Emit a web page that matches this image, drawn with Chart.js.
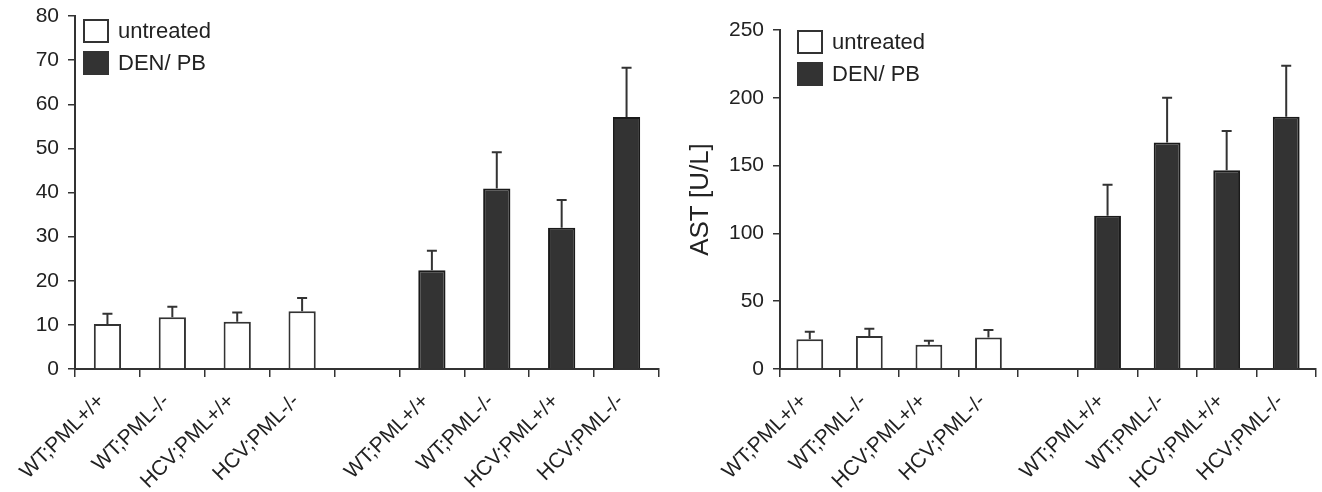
<!DOCTYPE html>
<html>
<head>
<meta charset="utf-8">
<script src="https://cdn.jsdelivr.net/npm/chart.js@4/dist/chart.umd.min.js"></script>
<style>
  body { margin: 0; background: #fff; }
  .panel { position: absolute; top: 0; width: 661px; height: 492px; }
</style>
</head>
<body>
<div class="panel" style="left:0"><canvas id="altChart" width="661" height="492"></canvas></div>
<div class="panel" style="left:661px"><canvas id="astChart" width="661" height="492"></canvas></div>
<script>
// categories (empty slot separates the two groups)
const groupLabels = ['WT;PML+/+', 'WT;PML-/-', 'HCV;PML+/+', 'HCV;PML-/-'];
const seriesNames = ['untreated', 'DEN/ PB'];

// left panel
const leftUntreated = [10.2, 11.7, 10.7, 13.1];
const leftUntreatedErr = [2.3, 2.4, 2.1, 3.0];
const leftDen = [22.4, 40.9, 32.0, 57.1];
const leftDenErr = [4.4, 8.2, 6.3, 11.2];
const leftTicks = { max: 80, step: 10 };

// right panel (AST)
const astUntreated = [22.0, 24.3, 17.9, 23.3];
const astUntreatedErr = [5.4, 5.3, 2.9, 5.4];
const astDen = [113, 167, 146.5, 186];
const astDenErr = [22.8, 33.0, 29.0, 37.7];
const astTicks = { max: 250, step: 50 };

const FONT = "'Liberation Sans', Arial, sans-serif";
const INK = '#222';
const AXIS = '#333';

const labels = groupLabels.concat([''], groupLabels);
const pad5 = [null, null, null, null, null];
function firstGroup(v) { return v.concat(pad5); }
function secondGroup(v) { return pad5.concat(v); }

// error bars (upper only) drawn through the y scale
const errorBars = {
	id: 'errorBars',
	afterDatasetsDraw(chart) {
		const ctx = chart.ctx;
		const y = chart.scales.y;
		ctx.save();
		ctx.strokeStyle = AXIS;
		ctx.lineWidth = 2;
		chart.data.datasets.forEach((ds, di) => {
			const meta = chart.getDatasetMeta(di);
			meta.data.forEach((bar, i) => {
				const v = ds.data[i];
				if (v == null) return;
				const top = y.getPixelForValue(v + ds.errors[i]);
				ctx.beginPath();
				ctx.moveTo(bar.x, bar.y);
				ctx.lineTo(bar.x, top);
				ctx.moveTo(bar.x - 5, top);
				ctx.lineTo(bar.x + 5, top);
				ctx.stroke();
			});
		});
		ctx.restore();
	}
};

// legend boxes inside the plot, top left
const boxLegend = {
	id: 'boxLegend',
	afterDraw(chart, args, opts) {
		const ctx = chart.ctx;
		const area = chart.chartArea;
		ctx.save();
		ctx.font = '22px ' + FONT;
		ctx.textBaseline = 'middle';
		chart.data.datasets.forEach((ds, i) => {
			const bx = area.left + opts.dx;
			const by = area.top + opts.dy + i * 32;
			ctx.fillStyle = ds.backgroundColor;
			ctx.fillRect(bx, by, 24, 22);
			ctx.strokeStyle = AXIS;
			ctx.lineWidth = 2;
			ctx.strokeRect(bx, by, 24, 22);
			ctx.fillStyle = INK;
			ctx.fillText(ds.label, bx + 34, by + 12);
		});
		ctx.restore();
	}
};

function makeChart(id, untreated, untreatedErr, den, denErr, ticksDef, opt) {
	const ctx = document.getElementById(id);
	const config = {
		type: 'bar',
		data: {
			labels: labels,
			datasets: [
				{
					label: seriesNames[0],
					data: firstGroup(untreated),
					errors: firstGroup(untreatedErr),
					backgroundColor: '#ffffff',
					borderColor: AXIS,
					borderWidth: 2
				},
				{
					label: seriesNames[1],
					data: secondGroup(den),
					errors: secondGroup(denErr),
					backgroundColor: '#333333',
					borderColor: '#1a1a1a',
					borderWidth: 2
				}
			]
		},
		options: {
			responsive: false,
			animation: false,
			grouped: false,
			categoryPercentage: 1,
			barPercentage: opt.barPct,
			layout: { padding: { top: opt.top, right: opt.right, left: 0, bottom: 0 } },
			plugins: {
				legend: { display: false },
				tooltip: { enabled: false },
				boxLegend: { dx: opt.legendDx, dy: opt.legendDy }
			},
			scales: {
				x: {
					offset: true,
					afterFit: (s) => { s.height = 123; },
					grid: { offset: true, drawOnChartArea: false, tickLength: 8, color: AXIS, lineWidth: 1.5 },
					border: { color: AXIS, width: 2 },
					ticks: {
						font: { family: FONT, size: 21 },
						color: INK,
						minRotation: 45,
						maxRotation: 45,
						autoSkip: false,
						padding: 12,
						labelOffset: -6
					}
				},
				y: {
					min: 0,
					max: ticksDef.max,
					afterFit: (s) => { s.width = opt.yWidth; s.paddingTop = 0; s.paddingBottom = 0; },
					grid: { drawOnChartArea: false, tickLength: 7, color: AXIS, lineWidth: 1.5 },
					border: { color: AXIS, width: 2 },
					ticks: {
						stepSize: ticksDef.step,
						font: { family: FONT, size: 21 },
						color: INK,
						padding: 9
					},
					title: {
						display: !!opt.title,
						text: opt.title || '',
						font: { family: FONT, size: 26 },
						color: INK,
						padding: { top: 24, bottom: 0 }
					}
				}
			}
		},
		plugins: [errorBars, boxLegend]
	};
	return new Chart(ctx, config);
}

makeChart('altChart', leftUntreated, leftUntreatedErr, leftDen, leftDenErr, leftTicks,
	{ barPct: 0.42, top: 16, right: 2, yWidth: 75, legendDx: 9, legendDy: 4 });
makeChart('astChart', astUntreated, astUntreatedErr, astDen, astDenErr, astTicks,
	{ barPct: 0.45, top: 30, right: 6, yWidth: 119, legendDx: 18, legendDy: 1, title: 'AST [U/L]' });
</script>
</body>
</html>
